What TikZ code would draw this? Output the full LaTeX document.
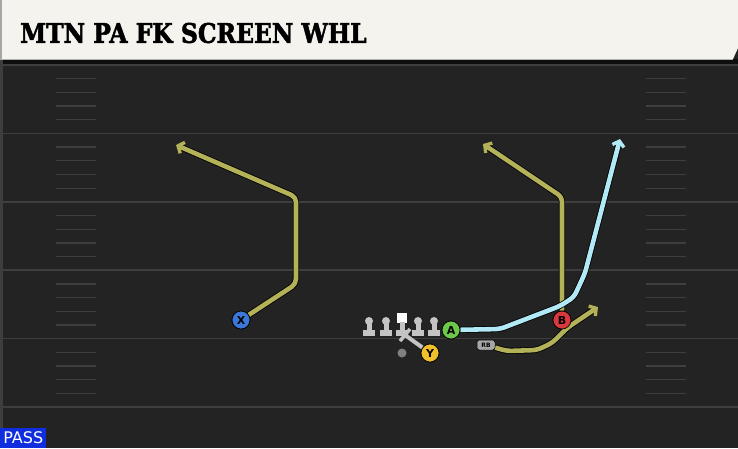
\documentclass[tikz,border=0pt]{standalone}
\usepackage{fontspec}
\usepackage{tikz}
\usetikzlibrary{arrows.meta}
\newfontfamily\titlefont{DejaVu Serif}[BoldFeatures={FakeBold=2}]
\newfontfamily\labelfont{DejaVu Sans}
\definecolor{fieldbg}{RGB}{35,35,35}
\definecolor{yardline}{RGB}{62,62,62}
\definecolor{headerbg}{RGB}{245,243,237}
\definecolor{routeolive}{RGB}{180,178,88}
\definecolor{routeblue}{RGB}{178,233,246}
\definecolor{linegray}{RGB}{196,196,196}
\definecolor{xblue}{RGB}{58,120,216}
\definecolor{agreen}{RGB}{108,200,72}
\definecolor{bred}{RGB}{218,56,60}
\definecolor{yyellow}{RGB}{240,192,44}
\definecolor{passblue}{RGB}{16,46,224}

\begin{document}
\begin{tikzpicture}[x=1pt, y=-1pt]
\tikzstyle{player} = [circle, draw = black, line width = 0.7pt, minimum size = 18pt, inner sep = 0pt, font = \labelfont\bfseries\fontsize{11}{11}\selectfont]
\tikzstyle{route} = [line width = 4.6pt, line join = round, rounded corners = 5pt, preaction = {draw = black, line width = 6.2pt}]
\tikzstyle{tip} = [-{Straight Barb[length = 5pt, width = 12pt, line width = 3.4pt]}]
\tikzstyle{lineman} = [fill = linegray]
\useasboundingbox (0,0) rectangle (738,448);
% field
\fill[fieldbg] (0,0) rectangle (738,448);
\fill[black!60!fieldbg] (0,59) rectangle (738,64);
\draw[yardline, line width = 3pt] (1.5,60) -- (1.5,448);
\foreach \y in {65,133.4,201.8,270.2,338.6,407} {
  \draw[yardline, line width = 1.6pt] (0,\y) -- (738,\y);
}
\foreach \y in {65,133.4,201.8,270.2,338.6} {
  \foreach \k in {1,2,3,4} {
    \draw[yardline, line width = 1.3pt] (56,\y+13.7*\k) -- (96,\y+13.7*\k);
    \draw[yardline, line width = 1.3pt] (646,\y+13.7*\k) -- (686,\y+13.7*\k);
  }
}
% header
\fill[headerbg] (0,0) -- (738,0) -- (738,48) -- (733,59) -- (0,59) -- cycle;
\draw[gray!70, line width = 2pt] (1,0) -- (1,59);
\draw[gray!60, line width = 1pt] (0,59.5) -- (733,59.5);
\node[anchor = west, inner sep = 0pt] (title) at (20,33) {\scalebox{0.87}[1]{\titlefont\bfseries\fontsize{27}{27}\selectfont MTN PA FK SCREEN WHL}};
% offensive line
\foreach \x in {369,386,418,434} {
  \fill[lineman] (\x,321) circle (4pt);
  \fill[lineman] (\x-2.5,321) rectangle (\x+2.5,331);
  \fill[lineman] (\x-6,329.5) rectangle (\x+6,336);
}
\fill[white] (397,313) rectangle (407,323);
\fill[lineman] (399.5,322) rectangle (404.5,331);
\fill[lineman] (396,329.5) rectangle (408,336);
\fill[gray] (402,353) circle (4.5pt);
% players
\node[player, fill = xblue] (X) at (241,320) {X};
\node[player, fill = agreen] (A) at (451,330) {A};
\node[player, fill = bred] (B) at (562,320) {B};
\node[player, fill = yyellow] (Y) at (430,353) {Y};
\node[rectangle, rounded corners = 2.5pt, fill = gray!70, draw = black, line width = 0.5pt, minimum width = 18pt, minimum height = 10pt, inner sep = 0pt, font = \labelfont\bfseries\fontsize{6}{6}\selectfont] (RB) at (486,345) {RB};
% route corners
\coordinate (x1) at (296,284);
\coordinate (x2) at (296,197);
\coordinate (xend) at (176,145);
\coordinate (b1) at (562,197);
\coordinate (bend) at (483,144);
\coordinate (a1) at (500,329);
\coordinate (a2) at (560,306);
\coordinate (a3) at (574,297);
\coordinate (a4) at (585,273);
\coordinate (aend) at (620,139);
\coordinate (r1) at (507,351);
\coordinate (r2) at (537,350);
\coordinate (r3) at (552,343);
\coordinate (r4) at (567,328);
\coordinate (rend) at (598,307);
% routes
\draw[route, tip, routeolive] (X) -- (x1) -- (x2) -- (xend);
\draw[route, tip, routeolive] (B) -- (b1) -- (bend);
\draw[route, tip, routeblue] (A) -- (a1) -- (a2) -- (a3) -- (a4) -- (aend);
\draw[route, tip, routeolive] (RB) -- (r1) -- (r2) -- (r3) -- (r4) -- (rend);
\draw[linegray, line width = 4pt] (Y) -- (405,335);
\draw[linegray, line width = 3.5pt] (400,341) -- (410,329);
% redraw players over routes
\node[player, fill = xblue] at (X) {X};
\node[player, fill = agreen] at (A) {A};
\node[player, fill = bred] at (B) {B};
\node[player, fill = yyellow] at (Y) {Y};
% play type
\node[fill = passblue, text = white, anchor = south west, inner sep = 0pt, minimum width = 46pt, minimum height = 20pt, font = \labelfont\fontsize{16}{16}\selectfont] (pass) at (0,448) {PASS};
\end{tikzpicture}
\end{document}
